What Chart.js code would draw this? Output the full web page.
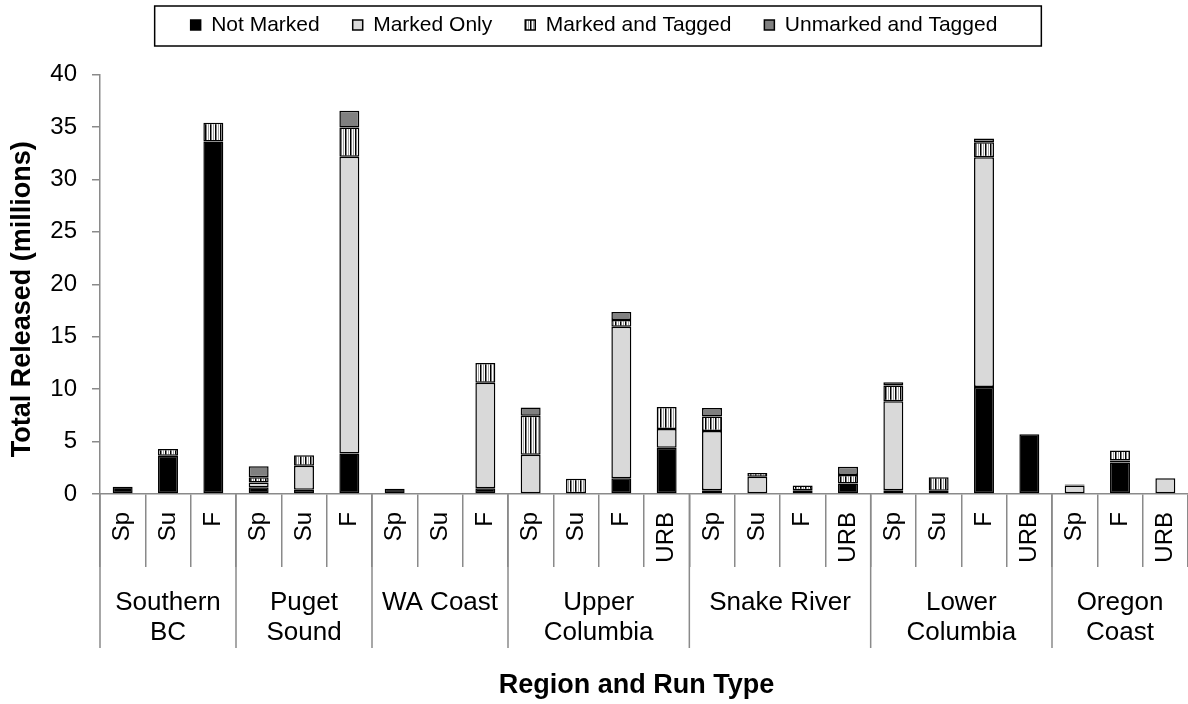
<!DOCTYPE html>
<html>
<head>
<meta charset="utf-8">
<script src="https://cdn.jsdelivr.net/npm/chart.js@4.4.1/dist/chart.umd.min.js"></script>
<style>
  html, body { margin: 0; padding: 0; background: #fff; }
  #wrap { width: 1188px; height: 704px; }
</style>
</head>
<body>
<div id="wrap"><canvas id="chart" width="1188" height="704"></canvas></div>
<script>
// run types per bar, and the regions they belong to
const runTypes = ['Sp','Su','F', 'Sp','Su','F', 'Sp','Su','F', 'Sp','Su','F','URB', 'Sp','Su','F','URB', 'Sp','Su','F','URB', 'Sp','F','URB'];
const regions = [['Southern','BC'], ['Puget','Sound'], ['WA Coast'], ['Upper','Columbia'], ['Snake River'], ['Lower','Columbia'], ['Oregon','Coast']];
const groupSizes = [3, 3, 3, 4, 4, 4, 3];

// millions released
const notMarked      = [0.7, 3.65, 33.6, 0.65, 0.4, 3.85, 0.5, null, 0.55, null, null, 1.5, 4.4, 0.35, null, null, 1.0, 0.35, 0.3, 10.2, 5.7, null, 3.0, null];
const markedOnly     = [null, null, null, 0.45, 2.3, 28.3, null, null, 10.05, 3.75, null, 14.45, 1.8, 5.65, 1.65, 0.35, null, 8.5, null, 21.9, null, 0.8, 0.2, 1.5];
const markedTagged   = [null, 0.65, 1.8, 0.5, 1.0, 2.8, null, null, 1.9, 3.7, 1.45, 0.65, 2.1, 1.4, 0.35, 0.45, 0.8, 1.5, 1.3, 1.45, null, 0.1, 0.95, null];
const unmarkedTagged = [null, null, null, 1.05, null, 1.6, null, null, null, 0.8, null, 0.75, null, 0.8, null, null, 0.8, 0.3, null, 0.35, null, null, null, null];

const yTicks = [0, 5, 10, 15, 20, 25, 30, 35, 40];

const FONT = "Arial, 'Liberation Sans', sans-serif";
const AXIS = '#8a8a8a';
Chart.defaults.font.family = FONT;
Chart.defaults.color = '#000';

const canvas = document.getElementById('chart');
const ctx = canvas.getContext('2d');

// vertical stripe fill for "Marked and Tagged"
function stripes() {
  const c = document.createElement('canvas');
  c.width = 5; c.height = 5;
  const g = c.getContext('2d');
  g.fillStyle = '#fff'; g.fillRect(0, 0, 5, 5);
  g.fillStyle = '#000'; g.fillRect(0, 0, 1.5, 5);
  g.fillStyle = '#a0a0a0'; g.fillRect(3, 0, 1, 5);
  return ctx.createPattern(c, 'repeat');
}

// legend keeps a fixed height so the plot starts where it does in the picture
const legendHeight = {
  id: 'legendHeight',
  beforeLayout(chart) {
    const lg = chart.legend;
    if (!lg || lg._fixed) return;
    const fit = lg.fit;
    lg.fit = function () { fit.call(this); this.height = 93; };
    lg._fixed = true;
  }
};

// box drawn round the legend
const legendBox = {
  id: 'legendBox',
  afterDraw(chart) {
    const hb = chart.legend.legendHitBoxes;
    if (!hb || !hb.length) return;
    const l = Math.min(...hb.map(h => h.left)) - 36;
    const r = Math.max(...hb.map(h => h.left + h.width)) + 44;
    const t = hb[0].top + hb[0].height / 2 - 19;
    const c = chart.ctx;
    c.save();
    c.strokeStyle = '#000';
    c.lineWidth = 1.5;
    c.strokeRect(l, t, r - l, 40);
    c.restore();
  }
};

// region names and the long separators under the run-type labels
const groupLabels = {
  id: 'groupLabels',
  afterDraw(chart) {
    const x = chart.scales.x;
    const c = chart.ctx;
    const half = (x.getPixelForValue(1) - x.getPixelForValue(0)) / 2;
    const y0 = x.top;
    c.save();
    c.strokeStyle = AXIS;
    c.lineWidth = 1.5;
    c.fillStyle = '#000';
    c.font = '26px ' + FONT;
    c.textAlign = 'center';
    c.textBaseline = 'middle';
    let start = 0;
    groupSizes.forEach((n, g) => {
      const left = x.getPixelForValue(start) - half;
      const right = x.getPixelForValue(start + n - 1) + half;
      c.beginPath();
      c.moveTo(left, y0);
      c.lineTo(left, y0 + 154);
      c.stroke();
      const cx = (left + right) / 2;
      regions[g].forEach((line, k) => c.fillText(line, cx, y0 + 109 + k * 30));
      start += n;
    });
    c.restore();
  }
};

new Chart(canvas, {
  type: 'bar',
  data: {
    labels: runTypes,
    datasets: [
      { label: 'Not Marked', data: notMarked, backgroundColor: '#000' },
      { label: 'Marked Only', data: markedOnly, backgroundColor: '#d9d9d9' },
      { label: 'Marked and Tagged', data: markedTagged, backgroundColor: stripes() },
      { label: 'Unmarked and Tagged', data: unmarkedTagged, backgroundColor: '#808080' }
    ].map(d => Object.assign(d, {
      borderColor: '#000',
      borderWidth: 1.5,
      borderSkipped: false,
      categoryPercentage: 1,
      barPercentage: 0.44
    }))
  },
  options: {
    responsive: false,
    animation: false,
    layout: { padding: { top: -18.5, left: 0, right: 0, bottom: 0 } },
    plugins: {
      tooltip: { enabled: false },
      legend: {
        position: 'top',
        labels: {
          boxWidth: 10,
          boxHeight: 10,
          padding: 33,
          color: '#000',
          font: { size: 21, family: FONT }
        }
      }
    },
    scales: {
      x: {
        stacked: true,
        offset: true,
        border: { display: true, color: AXIS, width: 1.5 },
        grid: { display: true, offset: true, drawOnChartArea: false, drawTicks: true, tickLength: 73, color: AXIS, lineWidth: 1.5 },
        ticks: { autoSkip: false, minRotation: 90, maxRotation: 90, padding: -55, color: '#000', font: { size: 24 } },
        // trailing spaces nudge the title left, as in the picture
        title: { display: true, text: 'Region and Run Type  ', color: '#000', font: { size: 27, weight: 'bold' }, padding: { top: 0, bottom: 2 } },
        afterFit(scale) { scale.height = 210; }
      },
      y: {
        stacked: true,
        min: 0,
        max: 40,
        border: { display: true, color: AXIS, width: 1.5 },
        grid: { drawOnChartArea: false, drawTicks: true, tickLength: 8, color: AXIS, lineWidth: 1.5 },
        afterBuildTicks(scale) { scale.ticks = yTicks.map(v => ({ value: v })); },
        ticks: { padding: 15, color: '#000', font: { size: 24 } },
        // trailing spaces push the rotated title a bit lower
        title: { display: true, text: 'Total Released (millions)    ', color: '#000', font: { size: 27, weight: 'bold' }, padding: { top: 6, bottom: 0 } },
        afterFit(scale) { scale.width = 100; }
      }
    }
  },
  plugins: [legendHeight, legendBox, groupLabels]
});
</script>
</body>
</html>
